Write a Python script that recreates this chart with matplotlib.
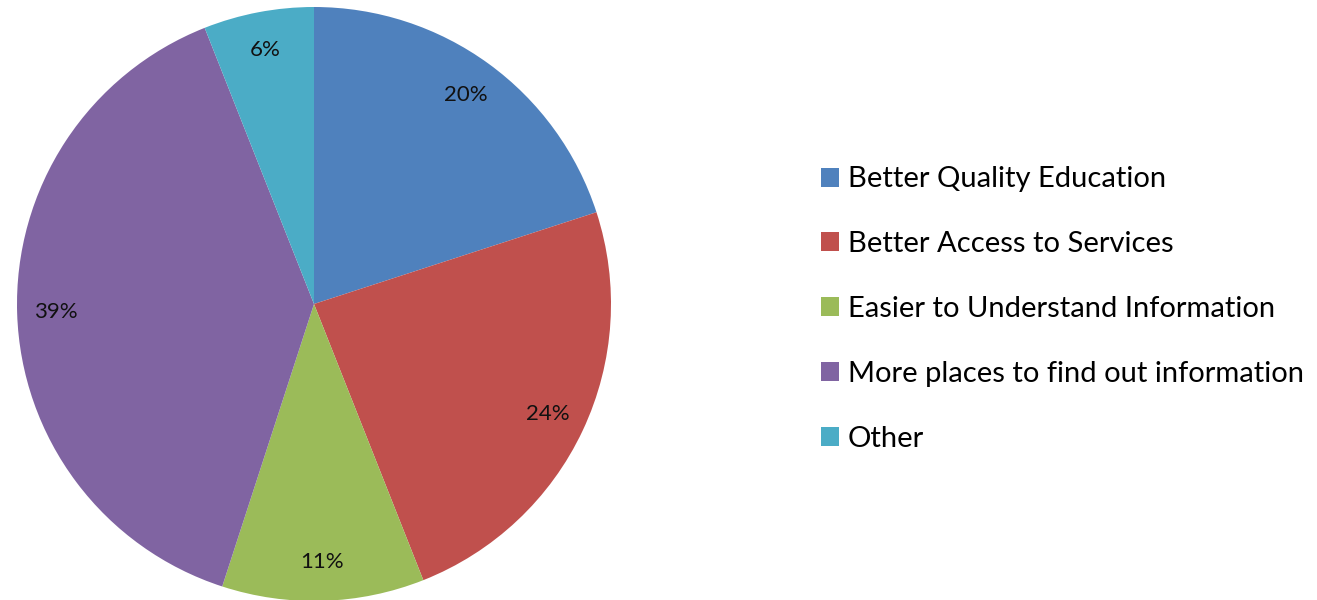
import matplotlib

matplotlib.use("Agg")

import matplotlib.pyplot as plt
from matplotlib.patches import Patch

categories = [
    "Better Quality Education",
    "Better Access to Services",
    "Easier to Understand Information",
    "More places to find out information",
    "Other",
]
shares = [20, 24, 11, 39, 6]
colors = ["#4F81BD", "#C0504D", "#9BBB59", "#8064A2", "#4BACC6"]

plt.rcParams["font.family"] = ["Lato", "DejaVu Sans"]

W, H = 1317, 600
fig = plt.figure(figsize=(W / 100, H / 100), dpi=100)

cx, cy, r = 314, 296, 297
ax = fig.add_axes([(cx - r) / W, (cy - r) / H, 2 * r / W, 2 * r / H])
wedges, _, autotexts = ax.pie(
    shares,
    colors=colors,
    startangle=90,
    counterclock=False,
    autopct="%d%%",
    pctdistance=0.87,
    textprops={"fontsize": 16, "color": "#111111"},
    wedgeprops={"linewidth": 0},
)
ax.set_xlim(-1, 1)
ax.set_ylim(-1, 1)
for w in wedges:
    w.set_clip_on(False)

handles = [Patch(facecolor=c, edgecolor="none") for c in colors]
fig.legend(
    handles,
    categories,
    loc="center left",
    bbox_to_anchor=(795 / W, 1 - 309 / H),
    frameon=False,
    fontsize=21,
    handlelength=0.62,
    handleheight=0.62,
    handletextpad=0.3,
    labelspacing=1.33,
)

fig.savefig("out.png", dpi=100)
